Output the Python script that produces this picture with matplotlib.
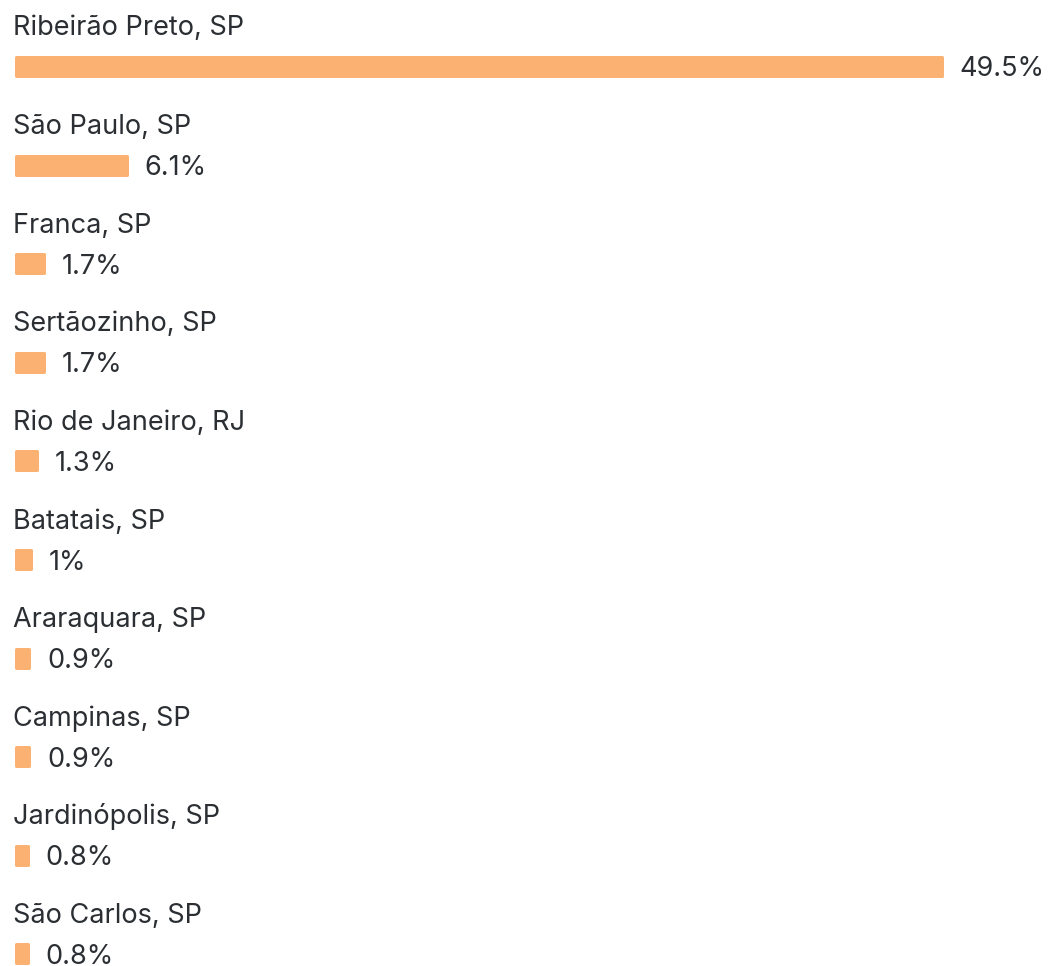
import matplotlib
matplotlib.use("Agg")
import matplotlib.pyplot as plt

cities = ["Ribeirão Preto, SP", "São Paulo, SP", "Franca, SP", "Sertãozinho, SP",
          "Rio de Janeiro, RJ", "Batatais, SP", "Araraquara, SP", "Campinas, SP",
          "Jardinópolis, SP", "São Carlos, SP"]
values = [49.5, 6.1, 1.7, 1.7, 1.3, 1.0, 0.9, 0.9, 0.8, 0.8]
value_labels = ["49.5%", "6.1%", "1.7%", "1.7%", "1.3%", "1%", "0.9%", "0.9%", "0.8%", "0.8%"]

plt.rcParams['font.family'] = ['Inter', 'DejaVu Sans']

W, H = 1052, 966
fig = plt.figure(figsize=(W / 100, H / 100), dpi=100)
ax = fig.add_axes([0, 0, 1, 1])

px_per_unit = (943 - 14) / 49.5
x0 = -14 / px_per_unit
x1 = (W - 14) / px_per_unit
ax.set_xlim(x0, x1)
ax.set_ylim(H, 0)
ax.axis('off')

bar_color = '#FBB171'
text_color = '#2b2f33'
row_h = 98.6
first_center = 66.5
bar_h = 22
lw = 3  # px, for rounded edges

for i, (c, v, lab) in enumerate(zip(cities, values, value_labels)):
    yc = first_center + i * row_h
    shrink = 1.5 / px_per_unit
    ax.barh(yc, v - 2 * shrink, left=shrink, height=bar_h - lw, color=bar_color,
            edgecolor=bar_color, linewidth=lw * 0.72, joinstyle='round')
    ax.text(x0 + 13 / px_per_unit, yc - 31, c, fontsize=19.5, color=text_color,
            va='baseline', ha='left')
    ax.text(v + 16 / px_per_unit, yc + 10, lab, fontsize=19.5, color=text_color,
            va='baseline', ha='left')

fig.savefig("out.png", dpi=100, facecolor='white')
